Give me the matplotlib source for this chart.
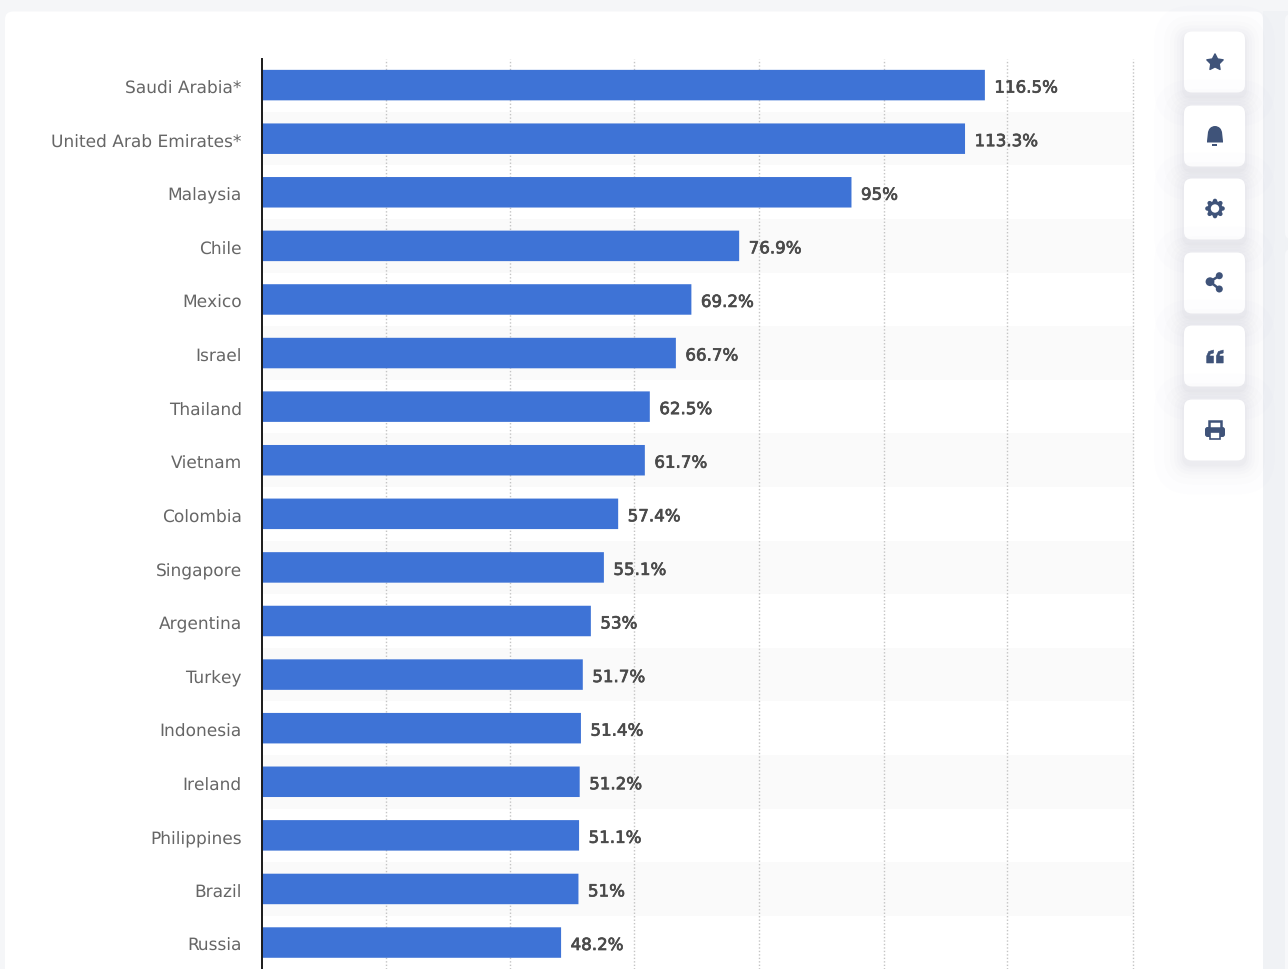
import matplotlib
matplotlib.use('Agg')
import math
import matplotlib.pyplot as plt
import matplotlib.patheffects as pe
from matplotlib.patches import FancyBboxPatch, Rectangle, Circle, Polygon, Wedge
from matplotlib.transforms import ScaledTranslation

countries = ['Saudi Arabia*', 'United Arab Emirates*', 'Malaysia', 'Chile', 'Mexico', 'Israel',
             'Thailand', 'Vietnam', 'Colombia', 'Singapore', 'Argentina', 'Turkey', 'Indonesia',
             'Ireland', 'Philippines', 'Brazil', 'Russia']
values = [116.5, 113.3, 95, 76.9, 69.2, 66.7, 62.5, 61.7, 57.4, 55.1, 53, 51.7, 51.4, 51.2, 51.1, 51, 48.2]
labels = ['116.5%', '113.3%', '95%', '76.9%', '69.2%', '66.7%', '62.5%', '61.7%', '57.4%', '55.1%',
          '53%', '51.7%', '51.4%', '51.2%', '51.1%', '51%', '48.2%']
grid_values = [20.05, 40, 60, 80.1, 100.2, 120, 140.4]

W, H = 1288, 970
BLUE = '#3e73d6'
ICON = '#3f5379'

plt.rcParams['text.hinting'] = 'none'
plt.rcParams['text.hinting_factor'] = 1

fig = plt.figure(figsize=(W / 100, H / 100), dpi=100, facecolor='#f5f6f8')

# page background, card and buttons, in pixel coordinates
bg = fig.add_axes([0, 0, 1, 1], zorder=0)
bg.set_xlim(0, W)
bg.set_ylim(H, 0)
bg.axis('off')


def rounded(ax, x0, y0, x1, y1, r, **kw):
    p = FancyBboxPatch((x0 + r, y0 + r), x1 - x0 - 2 * r, y1 - y0 - 2 * r,
                       boxstyle='round,pad=%g,rounding_size=%g' % (r, r), **kw)
    ax.add_patch(p)
    return p


bg.add_patch(Rectangle((1263, 12), 25, 960, fc='#f0f2f5', ec='none'))
rounded(bg, 1285, 15, 1330, 240, 6, fc='#f7f8fa', ec='none')
rounded(bg, 1285, 250, 1330, 990, 6, fc='#f7f8fa', ec='none')
rounded(bg, 5, 12.5, 1263, 1000, 8, fc='white', ec='none')

btn_tops = [32.5, 106.5, 179.5, 253.5, 326.5, 400.5]
for top in btn_tops:
    for grow, alpha in [(30, 0.008), (20, 0.01), (14, 0.012), (10, 0.014), (7, 0.016), (4, 0.02), (2, 0.025)]:
        rounded(bg, 1184 - grow, top - grow + 4, 1245 + grow, top + 61 + grow + 4, 8 + grow,
                fc='#5a6b8c', ec='none', alpha=alpha)
    rounded(bg, 1184, top, 1245, top + 61, 8, fc='white', ec='none')

cx = 1215

# star
pts = []
for k in range(10):
    r = 8.6 if k % 2 == 0 else 4.4
    a = math.radians(-90 + 36 * k)
    pts.append((cx + r * math.cos(a), 63.5 + r * math.sin(a)))
bg.add_patch(Polygon(pts, fc=ICON, ec=ICON, lw=1, joinstyle='round'))

# bell
bg.add_patch(Wedge((cx, 134), 7, 180, 360, fc=ICON, ec='none'))
bg.add_patch(Polygon([(cx - 7, 133), (cx + 7, 133), (cx + 8, 142), (cx + 8, 143.5), (cx - 8, 143.5), (cx - 8, 142)],
                     fc=ICON, ec='none'))
bg.add_patch(Rectangle((cx - 2.5, 144.5), 5, 2, fc=ICON, ec='none'))

# gear
y = 209.5
for k in range(8):
    a = math.radians(45 * k)
    bg.add_patch(Circle((cx + 7.6 * math.cos(a), y + 7.6 * math.sin(a)), 2.2, fc=ICON, ec='none'))
bg.add_patch(Circle((cx, y), 7.6, fc=ICON, ec='none'))
bg.add_patch(Circle((cx, y), 4.2, fc='white', ec='none'))

# share
bg.plot([1219.3, 1210, 1219.3], [276.7, 282.7, 290], color=ICON, lw=1.8)
bg.add_patch(Circle((1219.3, 276.7), 3.5, fc=ICON, ec='none'))
bg.add_patch(Circle((1210, 282.7), 4.4, fc=ICON, ec='none'))
bg.add_patch(Circle((1219.3, 290), 3.5, fc=ICON, ec='none'))

# quotes
for x in (1206.7, 1216.4):
    bg.add_patch(Polygon([(x + 6.8, 351), (x + 2, 352.5), (x, 357), (x, 364), (x + 6.8, 364), (x + 6.8, 357),
                          (x + 3, 357), (x + 3.5, 355), (x + 6.8, 354)],
                         fc=ICON, ec=ICON, lw=0.4, joinstyle='round'))

# printer
rounded(bg, 1205, 428, 1225, 438, 2.5, fc=ICON, ec='none')
bg.add_patch(Rectangle((1209, 422), 12, 7, fc='white', ec=ICON, lw=1.8))
bg.add_patch(Rectangle((1210, 432.5), 10, 7, fc='white', ec=ICON, lw=1.2))

# chart axes: left edge at x=262, top at y=60, runs off the bottom of the page
left, right, top, bottom = 262, 1134, 60, 970
ax = fig.add_axes([left / W, 1 - bottom / H, (right - left) / W, (bottom - top) / H], zorder=1)
ax.patch.set_alpha(0)
per_unit = 6.205
step = 53.59
first = 86.1
ax.set_xlim(0, (right - left) / per_unit)
ax.set_ylim((bottom - first) / step, (top - first) / step)

positions = list(range(len(countries)))
for i in positions[1::2]:
    ax.axhspan(i - 0.5, i + 0.5, color='#fafafa', lw=0, zorder=0)
for g in grid_values:
    ax.axvline(g, color='#c4c4c4', lw=1, ls=(0, (1, 1.5)), zorder=1, clip_on=False)

bars = ax.barh(positions, values, height=30.5 / step, color=BLUE, zorder=2)
for b in bars:
    b.set_snap(False)

for i, (v, lab) in enumerate(zip(values, labels)):
    t = ax.annotate(lab, (v, i), xytext=(9.5, -1), textcoords='offset pixels', va='center_baseline', ha='left',
                    fontsize=12, color='#4a4a4a', family='DejaVu Sans', zorder=3)
    t.set_path_effects([pe.withStroke(linewidth=0.5, foreground='#4a4a4a')])

ax.set_yticks(positions)
ax.set_yticklabels(countries, fontsize=12.05, color='#666666', family='DejaVu Sans')
ax.tick_params(axis='y', length=0, pad=14.5)
# tick labels sit about a pixel lower than the row centre
shift = ScaledTranslation(0, -1.2 / fig.dpi, fig.dpi_scale_trans)
for tl in ax.get_yticklabels():
    tl.set_transform(tl.get_transform() + shift)
ax.set_xticks([])
for s in ['top', 'right', 'bottom']:
    ax.spines[s].set_visible(False)
ax.spines['left'].set_color('#1a1a1a')
ax.spines['left'].set_linewidth(1.4)

fig.savefig('out.png', dpi=100, facecolor=fig.get_facecolor())
plt.close(fig)
